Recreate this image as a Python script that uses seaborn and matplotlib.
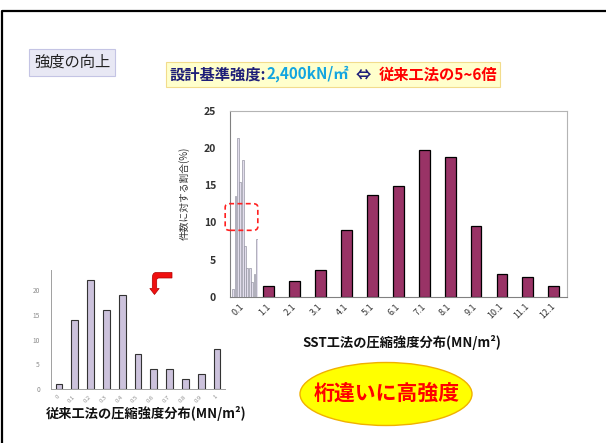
import numpy as np
import matplotlib
matplotlib.use("Agg")
import matplotlib.pyplot as plt
import seaborn as sns
from matplotlib.patches import FancyBboxPatch, Ellipse, PathPatch
from matplotlib.path import Path
from matplotlib.text import Annotation
from matplotlib.ticker import FixedLocator

# ---- data -------------------------------------------------------------
sst_categories = ["0.1", "1.1", "2.1", "3.1", "4.1", "5.1", "6.1",
                  "7.1", "8.1", "9.1", "10.1", "11.1", "12.1"]
sst_bins = ["1.1", "2.1", "3.1", "4.1", "5.1", "6.1",
            "7.1", "8.1", "9.1", "10.1", "11.1", "12.1"]
sst_share = [1.5, 2.1, 3.6, 9.0, 13.7, 14.9, 19.7, 18.8, 9.5, 3.0, 2.7, 1.5]

# conventional method, shown compressed inside the first SST class
conv_bins = ["0", "0.1", "0.2", "0.3", "0.4", "0.5",
             "0.6", "0.7", "0.8", "0.9", "1"]
conv_share_small = [1.0, 13.5, 21.3, 15.5, 18.4, 6.8, 3.9, 3.9, 2.0, 3.0, 7.8]
conv_share = [1, 14, 22, 16, 19, 7, 4, 4, 2, 3, 8]

main_yticks = [0, 5, 10, 15, 20, 25]
inset_yticks = [0, 5, 10, 15, 20]

# ---- style ------------------------------------------------------------
sns.set_style("white")
plt.rcParams["font.family"] = ["Noto Sans CJK JP", "DejaVu Sans"]

W, H = 606, 443
fig = plt.figure(figsize=(W / 100, H / 100), dpi=100)
fig.patch.set_facecolor("white")


def fx(x):
    return x / W


def fy(y):
    return 1 - y / H


def rect(x0, y0, x1, y1):
    return [fx(x0), fy(y1), fx(x1) - fx(x0), fy(y0) - fy(y1)]


# slide frame
fig.add_artist(plt.Line2D([fx(2.5), fx(2.5), fx(606)],
                          [fy(443), fy(10.5), fy(10.5)],
                          transform=fig.transFigure, color="black", lw=1.6))

# ---- inset: conventional method -------------------------------------
ax2 = fig.add_axes(rect(51, 270, 225, 389))
ax2.patch.set_visible(False)
sns.barplot(x=conv_bins, y=conv_share, order=conv_bins, color="#ccc2dc",
            saturation=1, edgecolor="#333333", linewidth=0.8, width=0.42,
            ax=ax2)
ax2.set_ylim(0, 24.1)
ax2.set_xlim(-0.5, len(conv_bins) - 0.5)
ax2.set_yticks(inset_yticks)
ax2.set_yticklabels([str(v) for v in inset_yticks], fontsize=4.8,
                    color="#8c8c8c")
ax2.tick_params(axis="y", length=0, pad=8)
ax2.set_xticks(range(len(conv_bins)))
ax2.set_xticklabels(conv_bins, rotation=45, ha="right", va="center",
                    rotation_mode="anchor", fontsize=4.3, color="#8c8c8c")
ax2.tick_params(axis="x", which="major", length=0, pad=5)
ax2.xaxis.set_minor_locator(FixedLocator(np.arange(-0.5, len(conv_bins), 1.0)))
ax2.tick_params(axis="x", which="minor", length=1.5, color="#a0a0a0", width=0.5)
for side in ["left", "bottom"]:
    ax2.spines[side].set_color("#a0a0a0")
    ax2.spines[side].set_linewidth(0.7)
for side in ["top", "right"]:
    ax2.spines[side].set_visible(False)
ax2.set_xlabel("従来工法の圧縮強度分布(MN/m²)", fontsize=9.5,
               fontweight="bold", color="#111111")
ax2.xaxis.label.set_va("center")
ax2.xaxis.set_label_coords(0.546, -0.202)

# ---- main chart -------------------------------------------------------
ax = fig.add_axes(rect(230, 111, 566.7, 296.7))
sns.barplot(x=sst_bins, y=sst_share, order=sst_categories, color="#993366",
            saturation=1, edgecolor="black", linewidth=0.9, width=0.42, ax=ax)
ax.set_ylim(0, 25)
ax.set_xlim(-0.5, len(sst_categories) - 0.5)
ax.set_yticks(main_yticks)
ax.set_yticklabels([str(v) for v in main_yticks], fontsize=7.5,
                   color="#333333", fontweight="bold")
ax.tick_params(axis="y", length=0, pad=10)
ax.set_xticks(range(len(sst_categories)))
ax.set_xticklabels(sst_categories, rotation=45, ha="right", va="center",
                   rotation_mode="anchor", fontsize=6.5, color="#333333")
ax.tick_params(axis="x", which="major", length=0, pad=6)
ax.xaxis.set_minor_locator(FixedLocator(np.arange(-0.5, len(sst_categories), 1.0)))
ax.tick_params(axis="x", which="minor", length=2, color="#808080", width=0.6)
for side in ["left", "bottom"]:
    ax.spines[side].set_color("#808080")
    ax.spines[side].set_linewidth(0.8)
for side in ["top", "right"]:
    ax.spines[side].set_color("#b4b4b4")
    ax.spines[side].set_linewidth(0.8)
ax.set_ylabel("件数に対する割合(%)", fontsize=7, color="#333333")
ax.yaxis.set_label_coords(-0.119, 0.557)
ax.set_xlabel("SST工法の圧縮強度分布(MN/m²)", fontsize=9.5,
              fontweight="bold", color="#111111")
ax.xaxis.label.set_va("center")
ax.xaxis.set_label_coords(0.511, -0.249)

# compressed conventional distribution in the first class
mini = fig.add_axes(rect(232, 111, 258, 296.7))
sns.barplot(x=conv_bins, y=conv_share_small, order=conv_bins, color="#e2ddec",
            saturation=1, edgecolor="#8e8e9c", linewidth=0.45, width=0.75,
            ax=mini)
mini.set_ylim(0, 25)
mini.set_xlim(-0.5, len(conv_bins) - 0.5)
mini.axis("off")
mini.patch.set_alpha(0)

# dashed highlight around the compressed bars
fig.add_artist(FancyBboxPatch((fx(227), fy(229)), fx(256) - fx(227),
                              fy(205) - fy(229),
                              boxstyle="round,pad=0.003,rounding_size=0.008",
                              transform=fig.transFigure, fill=False,
                              edgecolor="#ff2020", linestyle=(0, (3, 2)),
                              lw=1.2))

# ---- title and header boxes ------------------------------------------
fig.add_artist(FancyBboxPatch((fx(29), fy(76)), fx(115) - fx(29),
                              fy(49) - fy(76), boxstyle="square,pad=0",
                              transform=fig.transFigure,
                              facecolor="#e8e8f4", edgecolor="#c4c4e4", lw=0.8))
fig.text(fx(72), fy(62.5), "強度の向上", fontsize=11, color="#222222",
         ha="center", va="center")

fig.add_artist(FancyBboxPatch((fx(166), fy(87)), fx(500) - fx(166),
                              fy(62) - fy(87), boxstyle="square,pad=0",
                              transform=fig.transFigure,
                              facecolor="#ffffcc", edgecolor="#f2dc8c", lw=0.8))
pieces = [("設計基準強度:", "#1e1e78"), ("2,400kN/㎡", "#12a5e0"),
          ("  ⇔  ", "#1e1e78"), ("従来工法の5~6倍", "#ff0000")]
prev = fig.text(fx(170), fy(74.5), pieces[0][0], fontsize=11,
                fontweight="bold", color=pieces[0][1], ha="left", va="center")
for s, c in pieces[1:]:
    prev = fig.add_artist(Annotation(s, xy=(1, 0), xycoords=prev,
                                     va="bottom", ha="left", fontsize=11,
                                     fontweight="bold", color=c))

# ---- red bent arrow ---------------------------------------------------
pts = [(172, 272.5), (156, 272.5), (152.3, 272.5), (152.3, 278.5),
       (152.3, 288.5), (149.8, 288.5), (154.5, 294.5), (159.2, 288.5),
       (156.7, 288.5), (156.7, 280), (156.7, 278), (159, 278),
       (172, 278), (172, 272.5)]
codes = [Path.MOVETO, Path.LINETO, Path.CURVE3, Path.CURVE3,
         Path.LINETO, Path.LINETO, Path.LINETO, Path.LINETO,
         Path.LINETO, Path.LINETO, Path.CURVE3, Path.CURVE3,
         Path.LINETO, Path.CLOSEPOLY]
arrow = Path([(fx(x), fy(y)) for x, y in pts], codes)
fig.add_artist(PathPatch(arrow, transform=fig.transFigure,
                         facecolor="#f01010", edgecolor="#b00000", lw=0.5))

# ---- highlight ellipse -----------------------------------------------
fig.add_artist(Ellipse((fx(386), fy(394)), fx(172), 63 / H,
                       transform=fig.transFigure, facecolor="#ffff00",
                       edgecolor="#f0b000", lw=1.0))
fig.text(fx(387), fy(393), "桁違いに高強度", fontsize=15, fontweight="bold",
         color="#ff0000", ha="center", va="center")

fig.savefig("out.png", dpi=100, facecolor="white")
